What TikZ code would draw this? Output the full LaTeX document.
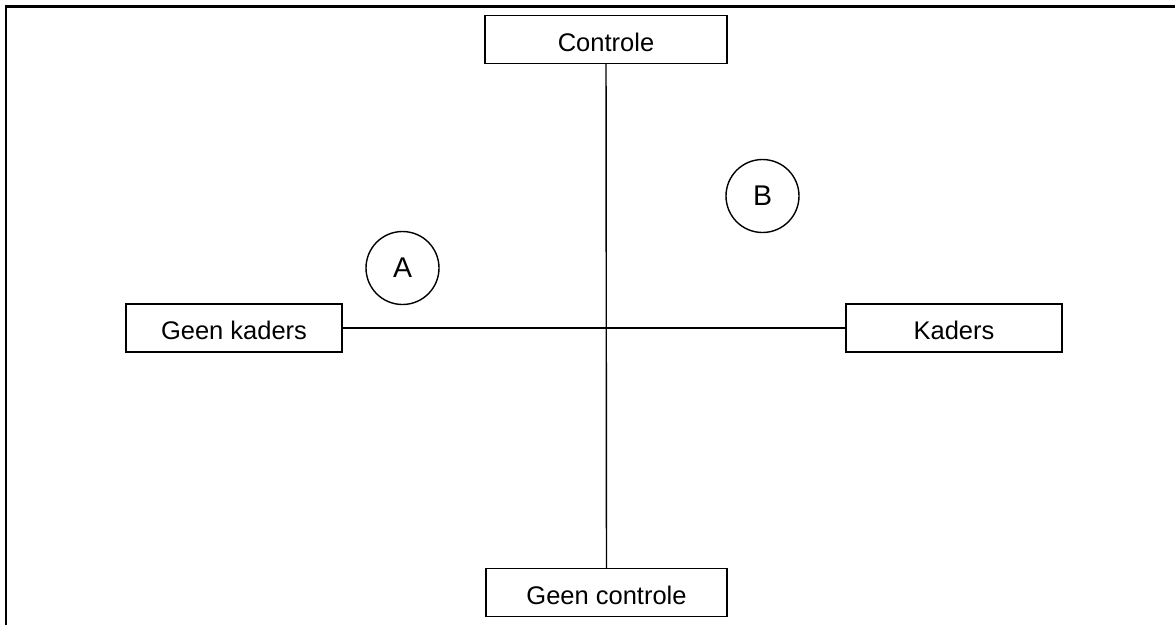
\documentclass[tikz,border=0pt]{standalone}
\usepackage{fontspec}
\setmainfont{Liberation Sans}
\begin{document}
\begin{tikzpicture}[x=1pt,y=-1pt,
  labelbox/.style={draw,line width=1.4pt,minimum width=#1,minimum height=48pt,inner sep=0pt,
    text height=23pt,text depth=0pt,font=\fontsize{25.5}{28}\selectfont},
  marker/.style={draw,circle,line width=1.4pt,minimum size=73pt,inner sep=0pt,font=\fontsize{28.5}{31}\selectfont},
  axis/.style={line width=1.4pt}]
\useasboundingbox (0,0) rectangle (1175,625);
% partial frame along the top and left edges
\draw[line width=2.4pt] (6,625) -- (6,6.5) -- (1175,6.5);
% axis end boxes
\node[labelbox=242pt] (ctrl) at (606,39.5) {Controle};
\node[labelbox=241pt] (noctrl) at (606.5,592.5) {Geen controle};
\node[labelbox=216pt] (nokad) at (234,328) {Geen kaders};
\node[labelbox=216pt] (kad) at (954,328) {Kaders};
% axes
\draw[axis] (ctrl) -- (noctrl);
\draw[axis] (nokad) -- (kad);
% quadrant markers
\node[marker] (a) at (402.5,268) {A};
\node[marker] (b) at (762.5,196) {B};
\end{tikzpicture}
\end{document}
